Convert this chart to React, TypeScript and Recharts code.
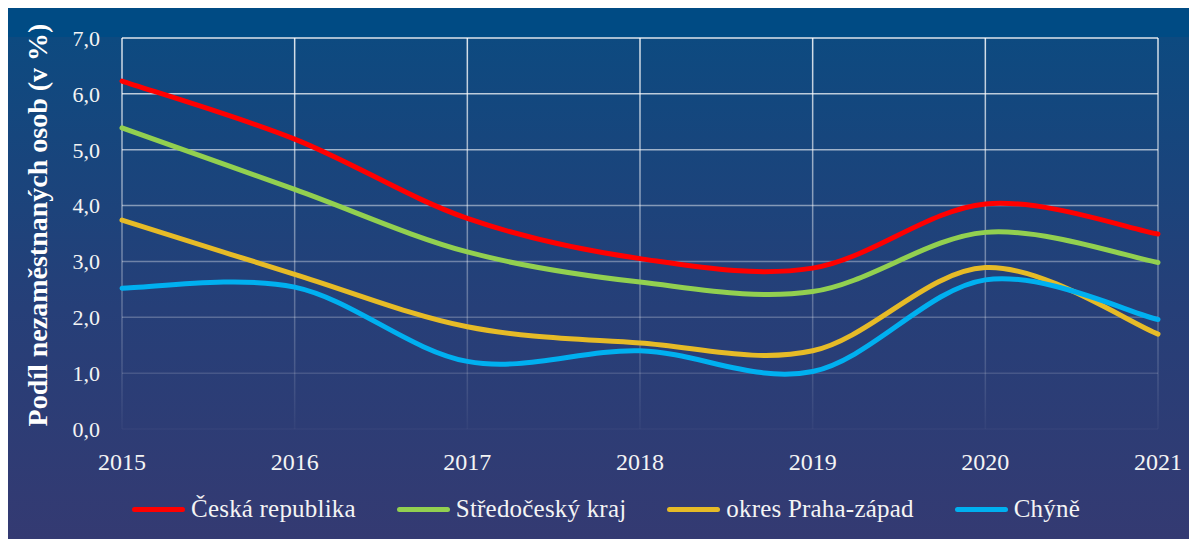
import React from "react";
import { LineChart, Line, XAxis, YAxis, CartesianGrid, Legend } from "recharts";

const YEARS = ["2015", "2016", "2017", "2018", "2019", "2020", "2021"];
const CESKA_REPUBLIKA = [6.23, 5.19, 3.77, 3.05, 2.88, 4.03, 3.49];
const STREDOCESKY_KRAJ = [5.39, 4.29, 3.17, 2.63, 2.46, 3.52, 2.98];
const PRAHA_ZAPAD = [3.74, 2.77, 1.83, 1.54, 1.4, 2.89, 1.7];
const CHYNE = [2.52, 2.54, 1.21, 1.4, 1.03, 2.67, 1.96];
const Y_TICKS = [0, 1, 2, 3, 4, 5, 6, 7];

const SERIES = [
  { key: "cr", name: "Česká republika", color: "#ff0000", values: CESKA_REPUBLIKA },
  { key: "sk", name: "Středočeský kraj", color: "#92d050", values: STREDOCESKY_KRAJ },
  { key: "pz", name: "okres Praha-západ", color: "#e6bb27", values: PRAHA_ZAPAD },
  { key: "ch", name: "Chýně", color: "#00b0f0", values: CHYNE },
];

const data = YEARS.map((year, i) => {
  const row: Record<string, number | string> = { year };
  SERIES.forEach((s) => (row[s.key] = s.values[i]));
  return row;
});

const FONT = "'Liberation Serif', serif";

// excel-like smoothing (catmull-rom as bezier)
function excelSmooth(context: any) {
  let pts: number[][] = [];
  return {
    areaStart() {},
    areaEnd() {},
    lineStart() {
      pts = [];
    },
    point(x: number, y: number) {
      pts.push([+x, +y]);
    },
    lineEnd() {
      const n = pts.length;
      if (!n) return;
      context.moveTo(pts[0][0], pts[0][1]);
      for (let i = 0; i < n - 1; i++) {
        const p0 = pts[Math.max(i - 1, 0)];
        const p1 = pts[i];
        const p2 = pts[i + 1];
        const p3 = pts[Math.min(i + 2, n - 1)];
        context.bezierCurveTo(
          p1[0] + (p2[0] - p0[0]) / 6,
          p1[1] + (p2[1] - p0[1]) / 6,
          p2[0] - (p3[0] - p1[0]) / 6,
          p2[1] - (p3[1] - p1[1]) / 6,
          p2[0],
          p2[1]
        );
      }
    },
  };
}

function LegendContent() {
  return (
    <div
      style={{
        display: "flex",
        justifyContent: "center",
        alignItems: "center",
        gap: 41,
        height: 40,
        fontFamily: FONT,
        fontSize: 25,
        letterSpacing: 0.2,
        color: "#f4f4f4",
        paddingLeft: 8,
      }}
    >
      {SERIES.map((s) => (
        <div key={s.key} style={{ display: "flex", alignItems: "center" }}>
          <span
            style={{
              display: "inline-block",
              width: 53,
              height: 5,
              borderRadius: 3,
              background: s.color,
              marginRight: 6,
            }}
          />
          {s.name}
        </div>
      ))}
    </div>
  );
}

export default function App() {
  return (
    <div
      style={{
        position: "relative",
        width: 1190,
        height: 531,
        marginLeft: -1,
        background:
          "linear-gradient(to bottom, #004b84 0px, #004b84 29px, #0d4a80 29px, #263f78 300px, #343a72 100%)",
      }}
    >
      <LineChart width={1190} height={531} data={data} margin={{ top: 30, right: 39, left: 0, bottom: 10 }}>
        <defs>
          <linearGradient id="gridFade" gradientUnits="userSpaceOnUse" x1="0" y1="30" x2="0" y2="421">
            <stop offset="0" stopColor="#ffffff" stopOpacity={0.85} />
            <stop offset="0.5" stopColor="#ffffff" stopOpacity={0.4} />
            <stop offset="1" stopColor="#ffffff" stopOpacity={0.03} />
          </linearGradient>
        </defs>
        <CartesianGrid stroke="url(#gridFade)" strokeWidth={1.5} />
        <XAxis
          dataKey="year"
          axisLine={false}
          tickLine={false}
          tickSize={0}
          tickMargin={24}
          height={60}
          tick={{ fill: "#f4f4f4", fontSize: 24, fontFamily: FONT }}
        />
        <YAxis
          domain={[0, 7]}
          ticks={Y_TICKS}
          width={115}
          axisLine={false}
          tickLine={false}
          tickSize={0}
          tickMargin={22}
          tickFormatter={(v: number) => v.toFixed(1).replace(".", ",")}
          tick={{ fill: "#f4f4f4", fontSize: 22, fontFamily: FONT }}
        />
        <Legend
          verticalAlign="bottom"
          height={40}
          wrapperStyle={{ left: 0, width: 1190 }}
          content={() => <LegendContent />}
        />
        {SERIES.map((s) => (
          <Line
            key={s.key}
            dataKey={s.key}
            name={s.name}
            type={excelSmooth as any}
            stroke={s.color}
            strokeWidth={5}
            strokeLinecap="round"
            dot={false}
            activeDot={false}
            isAnimationActive={false}
          />
        ))}
      </LineChart>
      <div
        style={{
          position: "absolute",
          left: 31,
          top: 217,
          transform: "translate(-50%, -50%) rotate(-90deg)",
          whiteSpace: "nowrap",
          fontFamily: FONT,
          fontWeight: "bold",
          fontSize: 28,
          color: "#ffffff",
        }}
      >
        Podíl nezaměstnaných osob (v %)
      </div>
    </div>
  );
}
